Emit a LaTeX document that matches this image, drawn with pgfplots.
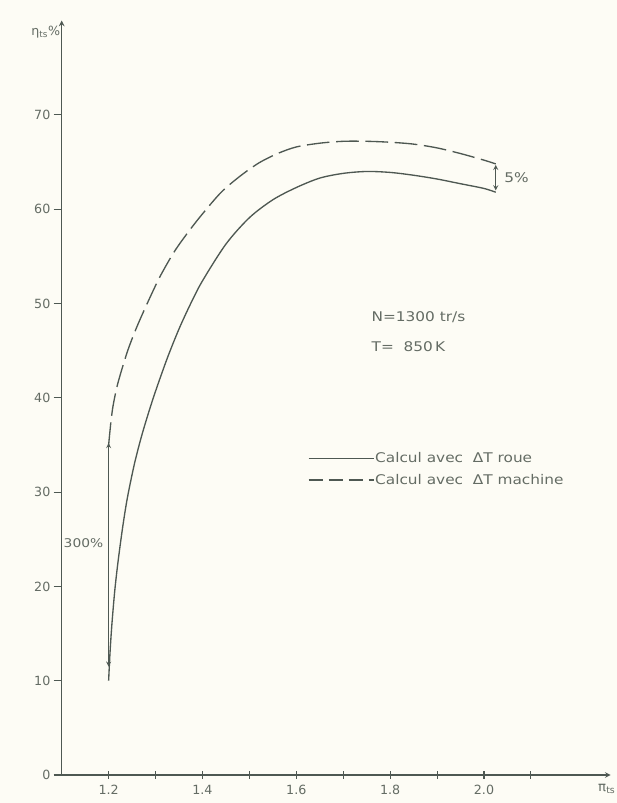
\documentclass[border=0pt]{standalone}
\usepackage{pgfplots}
\pgfplotsset{compat=1.18}
\usepackage{fontspec}
\setmainfont{DejaVu Sans}
\newfontfamily\lett[FakeStretch=1.15]{DejaVu Sans}
\usetikzlibrary{backgrounds}
\definecolor{ink}{RGB}{78,88,82}
\definecolor{txt}{RGB}{100,108,100}
\definecolor{paper}{RGB}{253,252,245}
\begin{document}
\begin{tikzpicture}[x=0.75pt,y=0.75pt,
  background rectangle/.style={fill=paper, draw=none}, show background rectangle, inner frame sep=0pt]
\begin{axis}[
  scale only axis,
  width=411.75pt, height=565.8pt,
  xmin=1.1, xmax=2.27, ymin=0, ymax=80,
  axis lines=left,
  axis line style={ink, line width=0.9pt, -stealth},
  xtick={1.2,1.4,1.6,1.8,2.0},
  minor xtick={1.3,1.5,1.7,1.9,2.1},
  ytick={0,10,20,30,40,50,60,70},
  tick style={ink, line width=0.8pt},
  xtick align=center,
  ytick align=outside,
  major tick length=6pt, minor tick length=6pt,
  /pgf/number format/assume math mode=true,
  xticklabel style={/pgf/number format/fixed, /pgf/number format/fixed zerofill, /pgf/number format/precision=1, font=\fontsize{9.5}{11}\selectfont, text=txt, yshift=-1pt},
  yticklabel style={font=\fontsize{9.5}{11}\selectfont, text=txt, xshift=1pt},
  clip=false,
  legend style={at={(axis cs:1.624,34.3)}, anchor=north west, draw=none, fill=none,
    font=\lett\fontsize{10}{12}\selectfont, text=txt, row sep=6pt, inner sep=0pt,
    nodes={inner sep=0.5pt}, legend cell align=left},
  legend image code/.code={\draw[#1] (0pt,0pt) -- (49pt,0pt);},
]
\addlegendimage{ink, line width=1pt}
\addlegendentry{Calcul avec\ \ ΔT roue}
\addlegendimage{ink, line width=1pt, dash pattern=on 11pt off 4pt}
\addlegendentry{Calcul avec\ \ ΔT machine}
% Calcul avec Delta T roue (solid)
\addplot[ink, line width=1pt, smooth, tension=0.5, forget plot] coordinates {
 (1.2,10) (1.203,13) (1.207,16) (1.213,19.5) (1.22,22.6) (1.23,26.3) (1.24,29.4)
 (1.255,33.0) (1.27,35.9) (1.285,38.4) (1.30,40.7) (1.325,44.2) (1.35,47.3)
 (1.375,50.0) (1.40,52.4) (1.45,56.3) (1.50,59.1) (1.55,61.0) (1.60,62.3)
 (1.65,63.3) (1.70,63.8) (1.75,64.0) (1.80,63.9) (1.85,63.6) (1.90,63.2)
 (1.95,62.7) (2.0,62.2) (2.025,61.8)
};
% Calcul avec Delta T machine (dashed)
\addplot[ink, line width=1pt, smooth, tension=0.5, dash pattern=on 17pt off 5pt, forget plot] coordinates {
 (1.2,35) (1.205,37.5) (1.21,39.3) (1.22,41.6) (1.24,44.9) (1.26,47.5) (1.285,50.3)
 (1.31,52.9) (1.34,55.5) (1.37,57.6) (1.40,59.5) (1.44,61.8) (1.48,63.5)
 (1.52,64.9) (1.56,65.9) (1.60,66.6) (1.65,67.0) (1.70,67.2) (1.75,67.2)
 (1.80,67.1) (1.85,66.9) (1.90,66.5) (1.95,65.9) (2.0,65.2) (2.025,64.8)
};
% 300% arrow
\addplot[ink, line width=0.7pt, stealth-stealth, forget plot] coordinates {(1.2,11.5) (1.2,35.2)};
% 5% arrow
\addplot[ink, line width=0.7pt, stealth-stealth, forget plot] coordinates {(2.025,62.0) (2.025,64.7)};
\node[text=txt, font=\lett\fontsize{9}{10}\selectfont, anchor=east, inner sep=0pt] at (axis cs:1.189,24.6) {300\%};
\node[text=txt, font=\lett\fontsize{10}{12}\selectfont, anchor=west, inner sep=0pt] at (axis cs:2.043,63.3) {5\%};
\node[text=txt, font=\lett\fontsize{10}{12}\selectfont, anchor=west, inner sep=0pt] at (axis cs:1.760,48.6) {N=1300 tr/s};
\node[text=txt, font=\lett\fontsize{10}{12}\selectfont, anchor=west, inner sep=0pt] at (axis cs:1.760,45.4) {T=\ \ 850\,K};
\node[text=txt, font=\fontsize{10}{12}\selectfont, anchor=north west, inner sep=1pt] at (axis cs:2.24,-0.8) {π\textsubscript{ts}};
\node[text=txt, font=\fontsize{9.5}{11}\selectfont, anchor=east, inner sep=1pt] at (axis cs:1.1,78.8) {η\textsubscript{ts}\%};
\coordinate (bl) at (rel axis cs:0,0);
\coordinate (tr) at (rel axis cs:1,1);
\end{axis}
\path[use as bounding box] ([shift={(-61.7,-28)}]bl) rectangle ([shift={(3,20.6)}]tr);
\end{tikzpicture}
\end{document}
